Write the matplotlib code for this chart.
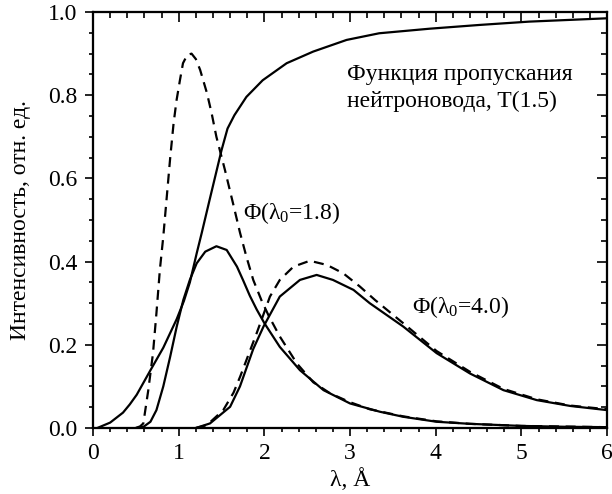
import matplotlib
matplotlib.use("Agg")
import matplotlib.pyplot as plt
from matplotlib.ticker import MultipleLocator

plt.rcParams['font.family'] = ['Liberation Serif', 'DejaVu Serif']
plt.rcParams['mathtext.fontset'] = 'custom'
plt.rcParams['mathtext.rm'] = 'Liberation Serif'
plt.rcParams['mathtext.it'] = 'Liberation Serif'

# Transmission function T(1.5)
t_x = [0.05, 0.2, 0.35, 0.43, 0.51, 0.665, 0.82, 0.977, 1.06, 1.13, 1.21, 1.27, 1.36, 1.5, 1.57, 1.65, 1.79, 1.98, 2.26, 2.57, 2.96, 3.34, 3.93, 4.51, 5.09, 6.0]
t_y = [0.0, 0.013, 0.037, 0.057, 0.08, 0.137, 0.193, 0.262, 0.305, 0.35, 0.42, 0.47, 0.548, 0.668, 0.72, 0.752, 0.796, 0.836, 0.877, 0.905, 0.933, 0.949, 0.96, 0.969, 0.977, 0.985]

# Spectrum Phi(lambda0=1.8), dashed
p18_x = [0.5, 0.55, 0.587, 0.645, 0.70, 0.74, 0.78, 0.82, 0.9, 0.94, 0.975, 1.015, 1.05, 1.1, 1.15, 1.2, 1.25, 1.33, 1.385, 1.44, 1.54, 1.64, 1.715, 1.79, 1.87, 1.97, 2.05, 2.18, 2.38, 2.57, 2.77, 3.0, 3.23, 3.62, 4.01, 4.4, 5.0, 6.0]
p18_y = [0.0, 0.004, 0.011, 0.091, 0.18, 0.276, 0.38, 0.46, 0.648, 0.732, 0.788, 0.837, 0.877, 0.897, 0.90, 0.887, 0.861, 0.805, 0.756, 0.70, 0.62, 0.535, 0.47, 0.412, 0.356, 0.305, 0.27, 0.22, 0.155, 0.11, 0.083, 0.062, 0.045, 0.028, 0.016, 0.01, 0.005, 0.002]

# Phi(1.8) * T, solid
f18_x = [0.5, 0.59, 0.67, 0.74, 0.82, 0.9, 0.977, 1.054, 1.13, 1.21, 1.31, 1.44, 1.56, 1.68, 1.75, 1.83, 1.91, 2.0, 2.18, 2.415, 2.69, 3.0, 3.35, 3.62, 4.01, 4.4, 5.0, 5.5, 6.0]
f18_y = [0.0, 0.003, 0.015, 0.043, 0.1, 0.171, 0.244, 0.308, 0.356, 0.396, 0.424, 0.437, 0.428, 0.388, 0.356, 0.318, 0.285, 0.252, 0.195, 0.139, 0.091, 0.059, 0.039, 0.027, 0.015, 0.01, 0.005, 0.003, 0.002]

# Spectrum Phi(lambda0=4.0), dashed
p40_x = [1.2, 1.33, 1.52, 1.64, 1.72, 1.79, 1.91, 2.065, 2.18, 2.34, 2.53, 2.73, 2.92, 3.115, 3.29, 3.62, 4.01, 4.4, 4.79, 5.18, 5.57, 6.0]
p40_y = [0.0, 0.007, 0.043, 0.085, 0.125, 0.163, 0.228, 0.316, 0.356, 0.388, 0.402, 0.392, 0.372, 0.34, 0.308, 0.252, 0.185, 0.135, 0.094, 0.069, 0.054, 0.045]

# Phi(4.0) * T, solid
f40_x = [1.2, 1.365, 1.6, 1.715, 1.87, 1.99, 2.18, 2.415, 2.61, 2.80, 3.04, 3.23, 3.62, 4.01, 4.4, 4.79, 5.18, 5.57, 6.0]
f40_y = [0.0, 0.011, 0.051, 0.1, 0.19, 0.244, 0.316, 0.356, 0.368, 0.356, 0.332, 0.30, 0.244, 0.18, 0.131, 0.091, 0.067, 0.053, 0.043]

x_ticks = [0, 1, 2, 3, 4, 5, 6]
y_ticks = [0.0, 0.2, 0.4, 0.6, 0.8, 1.0]

fs = 17
fig = plt.figure(figsize=(6.12, 4.94), dpi=100)
ax = fig.add_axes([0.152, 0.1336, 0.84, 0.842])

lw = 1.6
ax.plot(t_x, t_y, color='black', lw=lw)
ax.plot(f18_x, f18_y, color='black', lw=lw)
ax.plot(f40_x, f40_y, color='black', lw=lw)
ax.plot(p18_x, p18_y, color='black', lw=lw, linestyle=(0, (4.5, 3)))
ax.plot(p40_x, p40_y, color='black', lw=lw, linestyle=(0, (4.5, 3)))

ax.set_xlim(0, 6)
ax.set_ylim(0, 1.0)
ax.set_xticks(x_ticks)
ax.set_xticklabels([str(v) for v in x_ticks])
ax.set_yticks(y_ticks)
ax.set_yticklabels([f"{v:.1f}" for v in y_ticks])
ax.xaxis.set_minor_locator(MultipleLocator(0.2))
ax.yaxis.set_minor_locator(MultipleLocator(0.05))
ax.tick_params(which='both', direction='out', width=1.2, labelsize=fs)
ax.tick_params(which='major', length=6, pad=5)
ax.tick_params(which='minor', length=3)
for s in ax.spines.values():
    s.set_linewidth(1.5)

# inward ticks on top and right
axt = ax.twiny()
axt.set_xlim(ax.get_xlim())
axt.set_xticks(x_ticks)
axt.xaxis.set_minor_locator(MultipleLocator(0.2))
axt.tick_params(which='both', direction='in', width=1.2, labeltop=False)
axt.tick_params(which='major', length=7)
axt.tick_params(which='minor', length=4)
axr = ax.twinx()
axr.set_ylim(ax.get_ylim())
axr.set_yticks(y_ticks)
axr.yaxis.set_minor_locator(MultipleLocator(0.05))
axr.tick_params(which='both', direction='in', width=1.2, labelright=False)
axr.tick_params(which='major', length=7)
axr.tick_params(which='minor', length=4)
for a in (axt, axr):
    for s in a.spines.values():
        s.set_linewidth(1.5)

ax.set_xlabel("λ, Å", fontsize=fs)
ax.xaxis.set_label_coords(0.5, -0.097)
ax.set_ylabel("Интенсивность, отн. ед.", fontsize=fs)
ax.yaxis.set_label_coords(-0.12, 0.5)

ax.text(2.97, 0.837, "Функция пропускания", fontsize=fs, ha='left', va='baseline')
ax.text(2.97, 0.772, "нейтроновода, T(1.5)", fontsize=fs, ha='left', va='baseline')
ax.text(1.75, 0.502, r"Φ(λ$_0$=1.8)", fontsize=fs, ha='left', va='baseline')
ax.text(3.72, 0.276, r"Φ(λ$_0$=4.0)", fontsize=fs, ha='left', va='baseline')

fig.savefig("out.png", dpi=100)
